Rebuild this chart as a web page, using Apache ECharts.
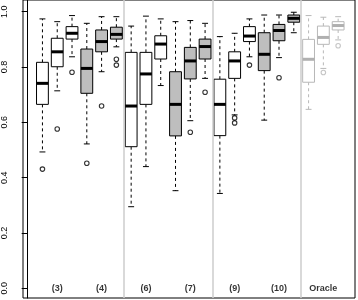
<!DOCTYPE html>
<html><head><meta charset="utf-8">
<script src="https://cdn.jsdelivr.net/npm/echarts@6/dist/echarts.min.js"></script>
<style>html,body{margin:0;padding:0;background:#fff}#c{width:358px;height:300px}</style>
</head><body><div id="c"></div>
<script>
// Groups of three boxes each
const groupLabels = ['(3)', '(4)', '(6)', '(7)', '(9)', '(10)', 'Oracle'];
const groupKinds  = ['white', 'gray', 'white', 'gray', 'white', 'gray', 'oracle'];
const boxesPerGroup = 3;
const groupsPerPanel = 2;

// Box statistics, one entry per box (21 boxes, left to right)
const lowWhisker  = [0.493, 0.714, 0.837, 0.522, 0.783, 0.873,  0.295, 0.440, 0.733, 0.353, 0.606, 0.759,  0.343, 0.627, 0.837, 0.608, 0.834, 0.924,  0.647, 0.795, 0.898];
const q1          = [0.665, 0.801, 0.901, 0.705, 0.855, 0.901,  0.512, 0.665, 0.829, 0.551, 0.757, 0.829,  0.552, 0.759, 0.892, 0.787, 0.895, 0.962,  0.745, 0.882, 0.934];
const median      = [0.741, 0.855, 0.922, 0.795, 0.892, 0.918,  0.659, 0.775, 0.883, 0.665, 0.822, 0.874,  0.665, 0.822, 0.912, 0.846, 0.932, 0.976,  0.828, 0.907, 0.950];
const q3          = [0.817, 0.904, 0.946, 0.865, 0.934, 0.944,  0.853, 0.853, 0.913, 0.783, 0.871, 0.901,  0.756, 0.855, 0.946, 0.924, 0.954, 0.988,  0.900, 0.948, 0.964];
const highWhisker = [0.974, 0.964, 0.986, 0.958, 0.982, 0.982,  0.948, 0.984, 0.974, 0.964, 0.968, 0.958,  0.910, 0.922, 0.974, 0.988, 0.988, 0.998,  0.986, 0.980, 0.982];

// Outliers: [box number (1-based), value]
const outliers = [[1, 0.431], [2, 0.576], [3, 0.781], [4, 0.452], [5, 0.659], [6, 0.828], [6, 0.807],
                  [11, 0.564], [12, 0.709], [14, 0.616], [14, 0.598], [15, 0.807], [17, 0.761],
                  [20, 0.780], [21, 0.877]];

const yTicks = [0, 0.2, 0.4, 0.6, 0.8, 1.0];

const styles = {
  white:  { stroke: '#000000', fill: '#ffffff', med: '#000000' },
  gray:   { stroke: '#000000', fill: '#bebebe', med: '#000000' },
  oracle: { stroke: '#b8b8b8', fill: '#ffffff', med: '#b0b0b0' }
};
const kindOf = pos => groupKinds[Math.floor((pos - 1) / boxesPerGroup)];

const boxData = median.map((m, i) => [i + 1, lowWhisker[i], q1[i], m, q3[i], highWhisker[i]]);

function renderItem(params, api) {
  const pos = api.value(0);
  const st = styles[kindOf(pos)];
  const pLo = api.coord([pos, api.value(1)]);
  const pQ1 = api.coord([pos, api.value(2)]);
  const pMd = api.coord([pos, api.value(3)]);
  const pQ3 = api.coord([pos, api.value(4)]);
  const pHi = api.coord([pos, api.value(5)]);
  const half = api.size([0.8, 0])[0] / 2;
  const capHalf = api.size([0.4, 0])[0] / 2;
  const x = pMd[0];
  const dash = { stroke: st.stroke, lineWidth: 1, lineDash: [3, 3] };
  const solid = { stroke: st.stroke, lineWidth: 1 };
  return {
    type: 'group',
    children: [
      { type: 'line', shape: { x1: x, y1: pQ3[1], x2: x, y2: pHi[1] }, style: dash },
      { type: 'line', shape: { x1: x, y1: pQ1[1], x2: x, y2: pLo[1] }, style: dash },
      { type: 'line', shape: { x1: x - capHalf, y1: pHi[1], x2: x + capHalf, y2: pHi[1] }, style: solid },
      { type: 'line', shape: { x1: x - capHalf, y1: pLo[1], x2: x + capHalf, y2: pLo[1] }, style: solid },
      { type: 'rect', shape: { x: x - half, y: pQ3[1], width: 2 * half, height: pQ1[1] - pQ3[1] },
        style: { fill: st.fill, stroke: st.stroke, lineWidth: 1 } },
      { type: 'line', shape: { x1: x - half, y1: pMd[1], x2: x + half, y2: pMd[1] },
        style: { stroke: st.med, lineWidth: 3 } }
    ]
  };
}

const separators = [];
for (let g = groupsPerPanel; g < groupLabels.length; g += groupsPerPanel) {
  separators.push({ xAxis: g * boxesPerGroup + 0.5 });
}

const chart = echarts.init(document.getElementById('c'), null, { renderer: 'canvas' });
chart.setOption({
  animation: false,
  textStyle: { fontFamily: 'Liberation Sans, Arial, Helvetica, sans-serif' },
  grid: { left: 22, right: 3, top: 0, bottom: 2, show: true, borderColor: '#000', borderWidth: 1, backgroundColor: 'transparent' },
  xAxis: { type: 'value', min: -0.315, max: 22.14, show: false },
  yAxis: {
    type: 'value', min: -0.035, max: 1.0423,
    axisLine: { show: true, lineStyle: { color: '#000', width: 1 } },
    axisTick: { show: true, length: 6, lineStyle: { color: '#000' }, customValues: yTicks },
    axisLabel: { rotate: 90, margin: 14, fontSize: 9, color: '#000', customValues: yTicks,
      formatter: v => v.toFixed(1) },
    splitLine: { show: false }
  },
  series: [
    {
      type: 'scatter', data: [], silent: true,
      markLine: { symbol: 'none', silent: true, label: { show: false },
        lineStyle: { color: '#cccccc', width: 1.5, type: 'solid' }, data: separators }
    },
    { type: 'custom', renderItem: renderItem, data: boxData, encode: { x: 0, y: [1, 2, 3, 4, 5] }, silent: true },
    {
      type: 'scatter', symbol: 'circle', symbolSize: 4.5, silent: true,
      data: outliers.map(o => ({ value: o, itemStyle: { color: 'rgba(0,0,0,0)', borderColor: styles[kindOf(o[0])].stroke, borderWidth: 1.1 } }))
    },
    {
      type: 'scatter', symbolSize: 0, silent: true,
      data: groupLabels.map((l, i) => ({ name: l, value: [i * boxesPerGroup + 2, 0] })),
      label: { show: true, position: 'inside', formatter: '{b}', fontSize: 9, fontWeight: 'bold', color: '#000' }
    }
  ]
});
</script></body></html>
